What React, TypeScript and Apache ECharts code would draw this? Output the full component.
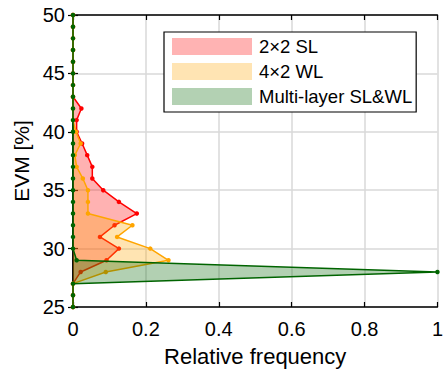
import React, { useEffect, useRef } from "react";
import * as echarts from "echarts";

const evmBins = ["25","26","27","28","29","30","31","32","33","34","35","36","37","38","39","40","41","42","43","44","45","46","47","48","49","50"];
const sl2x2 = [0, 0, 0, 0.021, 0.092, 0.126, 0.074, 0.114, 0.175, 0.126, 0.083, 0.053, 0.053, 0.039, 0.025, 0.01, 0.01, 0.023, 0, 0, 0, 0, 0, 0, 0, 0];
const wl4x2 = [0, 0, 0, 0.09, 0.262, 0.212, 0.121, 0.163, 0.041, 0.041, 0.041, 0.027, 0.01, 0.005, 0.021, 0.008, 0, 0, 0, 0, 0, 0, 0, 0, 0, 0];
const multi = [0, 0, 0, 1.0, 0.01, 0, 0, 0, 0, 0, 0, 0, 0, 0, 0, 0, 0, 0, 0, 0, 0, 0, 0, 0, 0, 0];
const seriesNames = ["2×2 SL", "4×2 WL", "Multi-layer SL&WL"];
const xTicks = { min: 0, max: 1, interval: 0.2 };

const FONT = "'Liberation Sans', Arial, sans-serif";

export default function App() {
  const ref = useRef<HTMLDivElement>(null);
  useEffect(() => {
    if (!ref.current) return;
    const chart = echarts.init(ref.current, null, { renderer: "svg" });
    const lineCols = ["#ff0000", "#ffa500", "#006400"];
    const fillCols = ["rgba(255,0,0,0.3)", "rgba(255,165,0,0.3)", "rgba(0,100,0,0.3)"];
    const legendCols = ["#ffb3b3", "#ffe4b3", "#b3d1b3"];
    const datas = [sl2x2, wl4x2, multi];
    const axisLine = { show: true, lineStyle: { color: "#000", width: 1.5 } };
    chart.setOption({
      animation: false,
      textStyle: { fontFamily: FONT },
      grid: { left: 73, right: 6, top: 15, bottom: 67, containLabel: false },
      legend: {
        orient: "vertical",
        left: 164,
        top: 32,
        icon: "rect",
        itemWidth: 80,
        itemHeight: 17,
        itemGap: 6,
        padding: [5, 4, 6, 8],
        borderColor: "#000",
        borderWidth: 1.2,
        backgroundColor: "#fff",
        textStyle: { fontSize: 18.5, color: "#000", fontFamily: FONT, padding: [0, 0, 0, 2] },
        data: seriesNames.map((n, i) => ({ name: n, itemStyle: { color: legendCols[i], borderWidth: 0 } })),
      },
      xAxis: [
        {
          type: "value",
          min: xTicks.min,
          max: xTicks.max,
          interval: xTicks.interval,
          position: "bottom",
          name: "Relative frequency",
          nameLocation: "middle",
          nameGap: 38,
          nameTextStyle: { fontSize: 22, color: "#000", fontFamily: FONT },
          axisLine,
          axisTick: { show: true, inside: true, length: 5, lineStyle: { color: "#000", width: 1.2 } },
          axisLabel: { fontSize: 20, color: "#000", margin: 12, fontFamily: FONT },
          splitLine: { show: true, lineStyle: { color: "#d9d9d9", width: 1.5 } },
        },
        {
          type: "value",
          min: xTicks.min,
          max: xTicks.max,
          interval: xTicks.interval,
          position: "top",
          axisLine,
          axisTick: { show: true, inside: true, length: 5, lineStyle: { color: "#000", width: 1.2 } },
          axisLabel: { show: false },
          splitLine: { show: false },
        },
      ],
      yAxis: [
        {
          type: "category",
          data: evmBins,
          boundaryGap: false,
          position: "left",
          name: "EVM [%]",
          nameLocation: "middle",
          nameGap: 37,
          nameRotate: 90,
          nameTextStyle: { fontSize: 21, color: "#000", fontFamily: FONT },
          axisLine,
          axisTick: { show: true, inside: true, length: 5, interval: 4, lineStyle: { color: "#000", width: 1.2 } },
          axisLabel: { fontSize: 20, color: "#000", interval: 4, margin: 8, fontFamily: FONT },
          splitLine: { show: true, interval: 4, lineStyle: { color: "#d9d9d9", width: 1.5 } },
        },
        {
          type: "category",
          data: evmBins,
          boundaryGap: false,
          position: "right",
          axisLine,
          axisTick: { show: true, inside: true, length: 5, interval: 4, lineStyle: { color: "#000", width: 1.2 } },
          axisLabel: { show: false },
          splitLine: { show: false },
        },
      ],
      series: datas.map((d, i) => ({
        name: seriesNames[i],
        type: "line",
        xAxisIndex: 0,
        yAxisIndex: 0,
        data: d,
        symbol: "circle",
        symbolSize: 4.5,
        showSymbol: true,
        showAllSymbol: true,
        lineStyle: { color: lineCols[i], width: 1.5 },
        itemStyle: { color: lineCols[i] },
        areaStyle: { color: fillCols[i], opacity: 1 },
        z: 2 + i,
      })),
    });
    return () => chart.dispose();
  }, []);
  return <div ref={ref} style={{ width: 446, height: 374, position: "absolute", left: 0, top: 0 }} />;
}
